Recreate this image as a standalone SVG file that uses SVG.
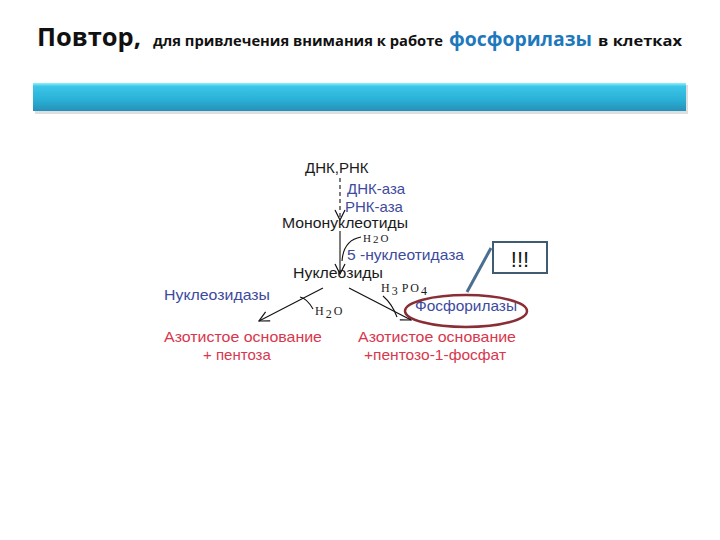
<svg xmlns="http://www.w3.org/2000/svg" width="720" height="540" viewBox="0 0 720 540">
<defs>
<linearGradient id="bar" x1="0" y1="0" x2="0" y2="1">
<stop offset="0" stop-color="#8ff0fb"/>
<stop offset="0.12" stop-color="#3cc6e8"/>
<stop offset="0.6" stop-color="#2ab0d6"/>
<stop offset="1" stop-color="#2590b8"/>
</linearGradient>
<marker id="open" viewBox="0 0 12 12" refX="11" refY="6" markerWidth="12" markerHeight="12" markerUnits="userSpaceOnUse" orient="auto">
<path d="M1,1 L11,6 L1,11" fill="none" stroke="#111" stroke-width="1.2"/>
</marker>
</defs>
<style>
.t{font-family:"Liberation Sans",Arial,sans-serif;font-size:15px;fill:#1a1a1a}
.b{fill:#3d4a9e}
.r{fill:#d8374d}
.s{font-family:"Liberation Serif","DejaVu Serif",serif;font-size:12px;fill:#1a1a1a;letter-spacing:2px}
.s1{font-size:11px}
.ln{stroke:#111;stroke-width:1.1;fill:none}
.h{font-family:"Open Sans","Liberation Sans",sans-serif;font-weight:bold}
.ex{font-size:22px}
</style>
<rect width="720" height="540" fill="#fff"/>
<g id="title">
<text x="37" y="46" class="h" font-size="25" fill="#111" textLength="104" lengthAdjust="spacingAndGlyphs">Повтор,</text>
<text x="153" y="46" class="h" font-size="14" fill="#111" textLength="290" lengthAdjust="spacingAndGlyphs">для привлечения внимания к работе</text>
<text x="449" y="46" class="h" font-size="20" fill="#1e78bc" textLength="143" lengthAdjust="spacingAndGlyphs">фосфорилазы</text>
<text x="598" y="46" class="h" font-size="14" fill="#111" textLength="84" lengthAdjust="spacingAndGlyphs">в клетках</text>
</g>
<g id="bar">
<rect x="35" y="85" width="653" height="29" fill="#c8c8c8" opacity="0.6"/>
<rect x="33" y="83" width="653" height="28" fill="url(#bar)"/>
</g>
<g id="connectors">
<line x1="340" y1="178" x2="340" y2="220" class="ln" stroke-dasharray="4,3" marker-end="url(#open)"/>
<line x1="340" y1="231" x2="340" y2="274" class="ln" marker-end="url(#open)"/>
<path d="M342,261 C343,247 350,239 361,237" class="ln"/>
<line x1="323" y1="288" x2="259" y2="321" class="ln" marker-end="url(#open)"/>
<path d="M300,297 C305,298 309,302 313,309" class="ln"/>
<line x1="349" y1="288" x2="411" y2="320" class="ln" marker-end="url(#open)"/>
<path d="M383,296 C390,302 394,309 397,317" class="ln"/>
<line x1="491" y1="248" x2="467" y2="292" stroke="#4a6f8f" stroke-width="3"/>
</g>
<g id="n-dnk"><text x="305" y="173" class="t">ДНК,РНК</text></g>
<g id="n-dnkaza"><text x="347" y="194" class="t b">ДНК-аза</text></g>
<g id="n-rnkaza"><text x="345" y="212" class="t b">РНК-аза</text></g>
<g id="n-mono"><text x="282" y="228" class="t" textLength="126" lengthAdjust="spacingAndGlyphs">Мононуклеотиды</text></g>
<g id="n-h2o-1"><text x="363" y="241.5" class="s s1">H<tspan dy="1.5">2</tspan><tspan dy="-1.5">O</tspan></text></g>
<g id="n-5nukl"><text x="347" y="260" class="t b" textLength="117" lengthAdjust="spacingAndGlyphs">5 -нуклеотидаза</text></g>
<g id="n-nukl"><text x="293" y="278" class="t" textLength="90" lengthAdjust="spacingAndGlyphs">Нуклеозиды</text></g>
<g id="n-nukleozidazy"><text x="164" y="300" class="t b" textLength="106" lengthAdjust="spacingAndGlyphs">Нуклеозидазы</text></g>
<g id="n-h3po4"><text x="381" y="292" class="s">H<tspan dy="3">3</tspan><tspan dx="2" dy="-3">PO</tspan><tspan dy="3">4</tspan></text></g>
<g id="n-h2o-2"><text x="315" y="315" class="s">H<tspan dy="3">2</tspan><tspan dy="-3">O</tspan></text></g>
<g id="n-fosf">
<text x="415" y="311" class="t b" textLength="102" lengthAdjust="spacingAndGlyphs">Фосфорилазы</text>
<ellipse cx="466" cy="311" rx="61" ry="16" fill="none" stroke="#8a2e35" stroke-width="2.5"/>
</g>
<g id="n-excl">
<rect x="493" y="242" width="54" height="31" fill="#fff" stroke="#3f5c72" stroke-width="2"/>
<text x="520" y="267" class="t ex" text-anchor="middle">!!!</text>
</g>
<g id="n-left"><text x="164" y="342" class="t r" textLength="158" lengthAdjust="spacingAndGlyphs">Азотистое основание</text>
<text x="203" y="360" class="t r">+ пентоза</text></g>
<g id="n-right"><text x="358" y="342" class="t r" textLength="158" lengthAdjust="spacingAndGlyphs">Азотистое основание</text>
<text x="364" y="360" class="t r" textLength="142" lengthAdjust="spacingAndGlyphs">+пентозо-1-фосфат</text></g>
</svg>
